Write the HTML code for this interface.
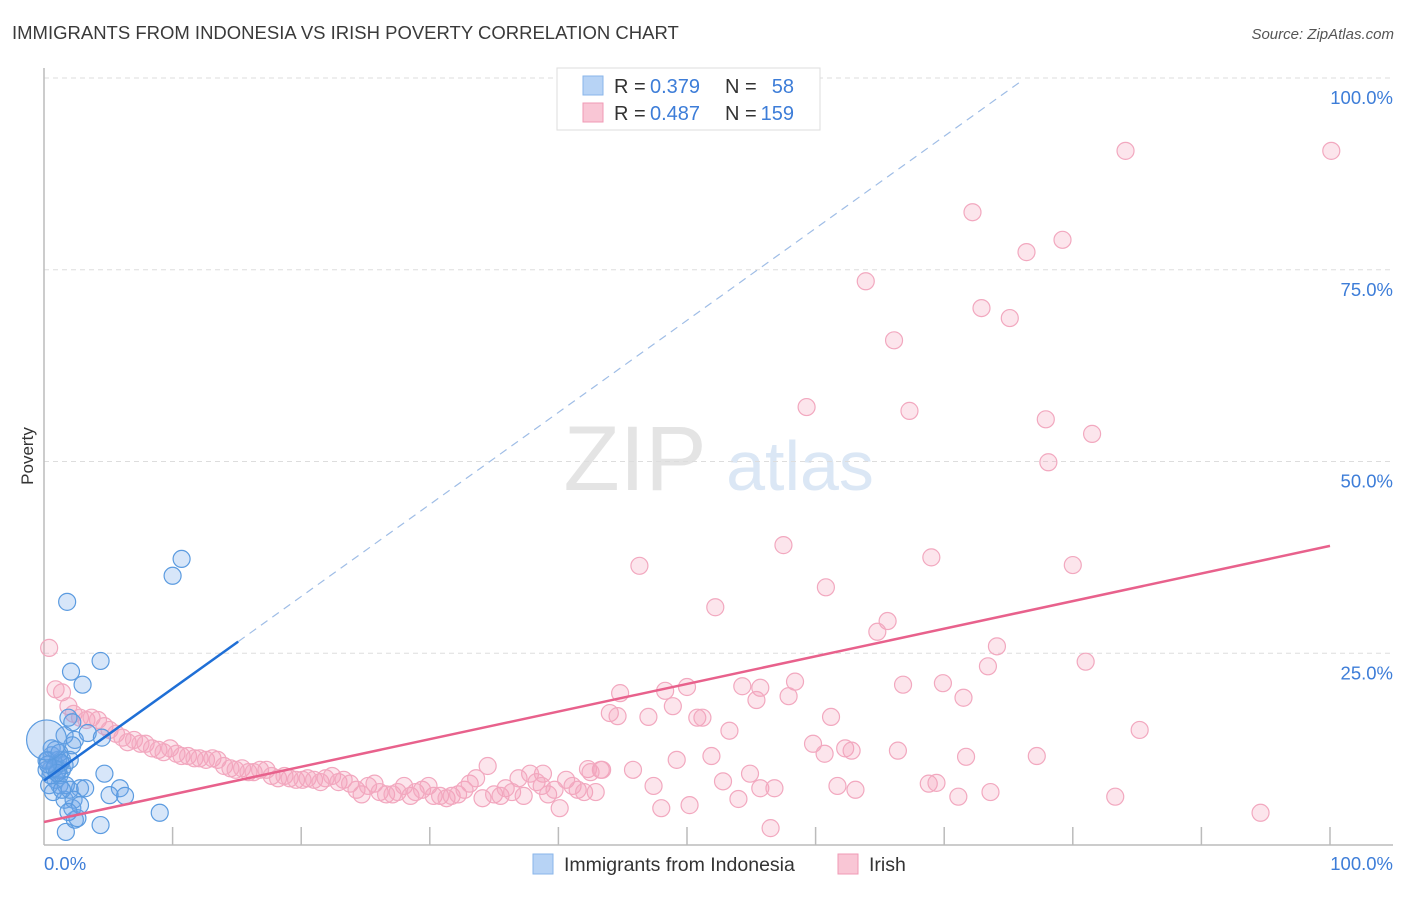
<!DOCTYPE html>
<html><head><meta charset="utf-8"><style>
body{margin:0;background:#fff;font-family:"Liberation Sans",sans-serif}
svg text{font-family:"Liberation Sans",sans-serif}
</style></head><body>
<svg width="1406" height="892" viewBox="0 0 1406 892" xmlns="http://www.w3.org/2000/svg">
<text x="12" y="39" font-size="18.5" fill="#3a3a3a">IMMIGRANTS FROM INDONESIA VS IRISH POVERTY CORRELATION CHART</text>
<text x="1394" y="39" font-size="15" fill="#555" text-anchor="end" font-style="italic">Source: ZipAtlas.com</text>
<g>
<text x="635" y="490" font-size="92" fill="#e4e4e4" font-family="Liberation Serif,serif" text-anchor="middle">ZIP</text>
<text x="800" y="490" font-size="70" fill="#dbe7f5" text-anchor="middle">atlas</text>
</g>
<g id="grid"></g>
<g id="axes"></g>
<g id="pink"></g>
<g id="blue"></g>
<g id="lines"></g>
<text transform="translate(33,456) rotate(-90)" font-size="17" fill="#333" text-anchor="middle">Poverty</text>
<g font-size="20">
<rect x="557" y="68" width="263" height="62" fill="#fff" stroke="#ddd"/>
<rect x="583" y="76" width="20" height="19" fill="#b7d3f5" stroke="#8ab6ea"/>
<rect x="583" y="103" width="20" height="19" fill="#f9c6d5" stroke="#f09ab5"/>
<text x="614" y="93" fill="#333">R =</text>
<text x="650" y="93" fill="#3d7dd8">0.379</text>
<text x="725" y="93" fill="#333">N =</text>
<text x="794" y="93" fill="#3d7dd8" text-anchor="end">58</text>
<text x="614" y="120" fill="#333">R =</text>
<text x="650" y="120" fill="#3d7dd8">0.487</text>
<text x="725" y="120" fill="#333">N =</text>
<text x="794" y="120" fill="#3d7dd8" text-anchor="end">159</text>
</g>
<g>
<rect x="533" y="854" width="20" height="20" fill="#b7d3f5" stroke="#8ab6ea"/>
<text x="564" y="871" font-size="19.5" fill="#333">Immigrants from Indonesia</text>
<rect x="838" y="854" width="20" height="20" fill="#f9c6d5" stroke="#f09ab5"/>
<text x="869" y="871" font-size="19.5" fill="#333">Irish</text>
</g>
</svg>
<script>
const xTickLabels=["0.0%","100.0%"];
const yTicks=[25,50,75,100];
const yTickLabels=["25.0%","50.0%","75.0%","100.0%"];
const blueX=[1.8,10.0,10.7,2.1,4.4,3.0,1.9,2.2,3.4,4.5,4.7,5.9,6.3,5.1,9.0,4.4,1.7,2.4,2.6,2.2,1.6,2.8,2.0,1.2,0.9,0.5,0.3,0.6,0.9,1.4,1.1,0.1,0.5,1.2,1.6,0.9,1.4,2.0,2.4,1.7,2.3,2.8,1.1,0.2,0.4,0.7,1.4,1.9,3.2,0.6,1.6,1.2,2.2,0.2,0.8,1.3,1.0,0.3];
const blueY=[31.7,35.1,37.3,22.6,24.0,20.9,16.6,16.0,14.6,14.0,9.3,7.4,6.4,6.5,4.2,2.6,1.7,3.3,3.5,4.8,5.9,7.4,7.2,7.8,8.5,9.8,11.1,11.7,10.4,9.8,11.1,11.7,9.1,9.1,10.4,12.4,11.1,11.1,13.7,7.8,5.9,5.2,9.8,9.8,7.8,6.9,7.2,4.3,7.4,12.6,14.3,12.0,13.0,11.0,10.0,10.7,9.4,10.5];
const pinkX=[84.1,100.1,72.2,79.2,76.4,63.9,72.9,75.1,66.1,59.3,67.3,77.9,81.5,78.1,57.5,69.0,80.0,46.3,60.8,52.2,65.6,64.8,74.1,81.0,73.4,66.8,69.9,58.4,50.0,48.3,54.3,55.7,44.8,71.5,57.9,55.4,48.9,44.0,44.6,47.0,61.2,50.8,51.2,53.3,85.2,59.8,62.3,62.8,66.4,60.7,51.9,49.2,71.7,77.2,54.9,52.8,43.3,45.8,42.3,38.8,55.7,61.7,63.1,56.8,47.4,68.8,69.4,73.6,71.1,83.3,54.0,50.2,48.0,56.5,94.6,
0.4,0.9,1.4,1.9,2.3,2.8,3.3,3.7,4.2,4.7,5.1,5.6,6.1,6.5,7.0,7.5,7.9,8.4,8.9,9.3,9.8,10.3,10.7,11.2,11.7,12.1,12.6,13.1,13.5,14.0,14.5,14.9,15.4,15.9,16.3,16.8,17.3,17.7,18.2,18.7,19.1,19.6,20.1,20.5,21.0,21.5,21.9,22.4,22.9,23.3,23.8,24.3,24.7,25.2,25.7,26.1,26.6,27.1,27.5,28.0,28.5,28.9,29.4,29.9,30.3,30.8,31.3,31.7,32.2,32.7,33.1,33.6,34.1,34.5,35.0,35.5,35.9,36.4,36.9,37.3,37.8,38.3,38.7,39.2,39.7,40.1,40.6,41.1,41.5,42.0,42.5,42.9,43.4];
const pinkY=[90.5,90.5,82.5,78.9,77.3,73.5,70.0,68.7,65.8,57.1,56.6,55.5,53.6,49.9,39.1,37.5,36.5,36.4,33.6,31.0,29.2,27.8,25.9,23.9,23.3,20.9,21.1,21.3,20.6,20.1,20.7,20.5,19.8,19.2,19.4,18.9,18.1,17.2,16.8,16.7,16.7,16.6,16.6,14.9,15.0,13.2,12.6,12.3,12.3,11.9,11.6,11.1,11.5,11.6,9.3,8.3,9.8,9.8,9.9,9.3,7.4,7.7,7.2,7.4,7.7,8.0,8.1,6.9,6.3,6.3,6.0,5.2,4.8,2.2,4.2,
25.7,20.3,19.9,18.1,17.1,16.6,16.3,16.6,16.3,15.5,15.0,14.5,14.0,13.4,13.7,13.2,13.2,12.6,12.4,12.1,12.6,11.9,11.6,11.6,11.3,11.3,11.1,11.3,11.1,10.3,10.0,9.8,10.0,9.5,9.5,9.8,9.8,9.0,8.7,9.0,8.7,8.5,8.5,8.7,8.5,8.2,8.7,9.0,8.2,8.5,8.0,7.2,6.6,7.7,8.0,6.9,6.6,6.6,6.9,7.7,6.4,6.9,7.2,7.7,6.4,6.4,6.1,6.4,6.6,7.2,8.0,8.7,6.1,10.3,6.6,6.4,7.4,6.9,8.7,6.4,9.3,8.2,7.7,6.6,7.2,4.8,8.5,7.7,7.2,6.9,9.5,6.9,9.8];
const blueFit=[8.4,1.2];   // intercept, slope
const blueSolidEnd=15.1, blueDashEnd=76;
const pinkFit=[3.0,0.36];
const NS="http://www.w3.org/2000/svg";
const X0=44,X1=1330,Y0=845,Y100=78;
function sx(v){return X0+(X1-X0)*v/100;}
function sy(v){return Y0-(Y0-Y100)*v/100;}
function mk(t,a,p){const e=document.createElementNS(NS,t);for(const k in a)e.setAttribute(k,a[k]);p.appendChild(e);return e;}
const grid=document.getElementById('grid');
yTicks.forEach((t,i)=>{
 const l=mk('line',{x1:44,x2:1393,y1:sy(t),y2:sy(t),stroke:'#ddd','stroke-dasharray':'5,4'},grid);
 
 
 const tx=mk('text',{x:1393,y:sy(t)+26,'font-size':18.5,fill:'#3d7dd8','text-anchor':'end'},grid);
 tx.textContent=yTickLabels[i];
 
 
});
const ax=document.getElementById('axes');
const a1=mk('line',{x1:44,x2:44,y1:68,y2:845,stroke:'#bbb','stroke-width':1.5},ax);


const a2=mk('line',{x1:44,x2:1393,y1:845,y2:845,stroke:'#bbb','stroke-width':1.5},ax);


for(let i=1;i<=10;i++){const t=mk('line',{x1:sx(i*10),x2:sx(i*10),y1:827,y2:845,stroke:'#bbb','stroke-width':1.5},ax);
 
 }
[[0,'start',44],[100,'end',1393]].forEach((d,i)=>{const t=mk('text',{x:d[2],y:870,'font-size':18.5,fill:'#3d7dd8','text-anchor':d[1]},ax);t.textContent=xTickLabels[i];
 
 });
const pg=document.getElementById('pink');
pinkX.forEach((v,i)=>{const c=mk('circle',{cx:sx(v),cy:sy(pinkY[i]),r:8.5,fill:'rgba(244,160,188,0.28)',stroke:'#f2a8bf','stroke-width':1.2},pg);
 
 });
const bg=document.getElementById('blue');
blueX.forEach((v,i)=>{const c=mk('circle',{cx:sx(v),cy:sy(blueY[i]),r:(i==31?0:8.5),fill:'rgba(110,165,232,0.28)',stroke:'#5b9be0','stroke-width':1.2},bg);
 
 });
const big=mk('circle',{cx:sx(0.2),cy:sy(13.7),r:20,fill:'rgba(110,165,232,0.28)',stroke:'#5b9be0','stroke-width':1.2},bg);


const lg=document.getElementById('lines');
const f=(fit,x)=>fit[0]+fit[1]*x;
const pl=mk('line',{x1:sx(0),y1:sy(f(pinkFit,0)),x2:sx(100),y2:sy(f(pinkFit,100)),stroke:'#e8618c','stroke-width':2.5},lg);


const bd=mk('line',{x1:sx(blueSolidEnd),y1:sy(f(blueFit,blueSolidEnd)),x2:sx(blueDashEnd),y2:sy(f(blueFit,blueDashEnd)),stroke:'#9fbde6','stroke-width':1.2,'stroke-dasharray':'8,6'},lg);


const bl=mk('line',{x1:sx(0),y1:sy(f(blueFit,0)),x2:sx(blueSolidEnd),y2:sy(f(blueFit,blueSolidEnd)),stroke:'#1f6fd6','stroke-width':2.5},lg);


</script>
</body></html>
